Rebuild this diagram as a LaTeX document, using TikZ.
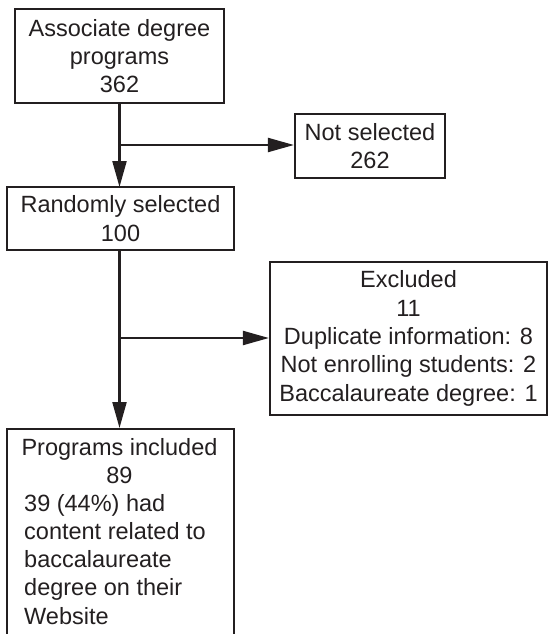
\documentclass[tikz,border=0pt]{standalone}
\usepackage{fontspec}
\setmainfont{Liberation Sans}
\usetikzlibrary{arrows.meta}
\definecolor{ink}{RGB}{35,31,32}
\begin{document}
\begin{tikzpicture}[x=1pt,y=-1pt,
  box/.style={draw=ink,line width=2.2pt,inner sep=0pt,text=ink,align=center,
    font=\fontsize{23.5pt}{28.3pt}\selectfont},
  txt/.style={inner sep=0pt,text=ink,font=\fontsize{23.5pt}{28.3pt}\selectfont},
  conn/.style={draw=ink,line width=2.2pt},
  arr/.style={conn,-{Triangle[length=26pt,width=14pt]}}]
\useasboundingbox (0,0) rectangle (548,634);
\clip (0,0) rectangle (548,634);
\node[box,minimum width=209pt,minimum height=94pt] (A) at (119.5,56) {Associate degree\\programs\\362};
\node[box,minimum width=150pt,minimum height=64pt] (N) at (370,146) {Not selected\\262};
\node[box,minimum width=227pt,minimum height=63pt] (R) at (120.5,218.5) {Randomly selected\\100};
\node[box,minimum width=277pt,minimum height=153pt] (E) at (408.5,338.5) {Excluded\\11\\Duplicate information: 8\\Not enrolling students: 2\\Baccalaureate degree: 1};
\node[box,anchor=north west,minimum width=227pt,minimum height=230pt] (I) at (6,428) {};
\node[txt,align=center,anchor=north] (Ih) at (119.5,437.8) {Programs included\\89};
\node[txt,align=left,anchor=north west] (Ib) at (24,493.8) {39 (44\%) had\\content related to\\baccalaureate\\degree on their\\Website};
\coordinate (b1) at (119.5,145);
\coordinate (b2) at (119.5,338);
\draw[arr] (119.5,103) -- (119.5,187);
\draw[arr] (b1) -- (b1 -| N.west);
\draw[arr] (119.5,250) -- (I.north -| 119.5,0);
\draw[arr] (b2) -- (b2 -| E.west);
\end{tikzpicture}
\end{document}
